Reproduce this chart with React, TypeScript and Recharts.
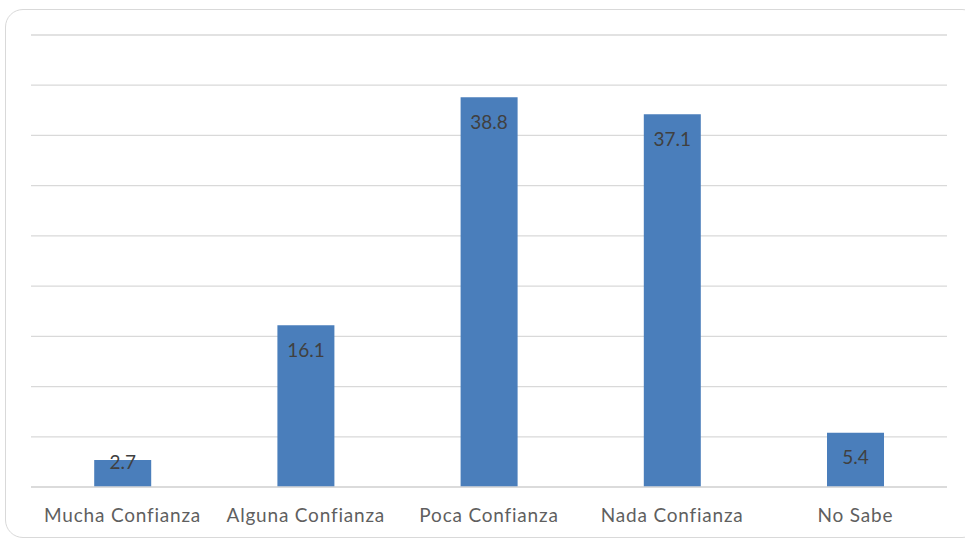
import React from 'react';
import { BarChart, Bar, XAxis, YAxis, CartesianGrid, LabelList } from 'recharts';

const categories = ['Mucha Confianza', 'Alguna Confianza', 'Poca Confianza', 'Nada Confianza', 'No Sabe'];
const values = [2.7, 16.1, 38.8, 37.1, 5.4];
const yTicks = [0, 5, 10, 15, 20, 25, 30, 35, 40, 45];

const data = categories.map((name, i) => ({ name, value: values[i] }));

const FONT = 'Lato, "Open Sans", sans-serif';

// Excel-style inside-end label; short bars get the label pushed up over the top edge
const BarValueLabel = (props: any) => {
  const { x, y, width, height, value } = props;
  const cy = height < 40 ? y + 2 : y + 24;
  return (
    <text
      x={x + width / 2}
      y={cy}
      textAnchor="middle"
      dominantBaseline="central"
      style={{ fill: '#404040', fontSize: 19, fontFamily: FONT }}
    >
      {value}
    </text>
  );
};

export default function App() {
  return (
    <div style={{ position: 'relative', width: 965, height: 539, background: '#fff', fontFamily: FONT, overflow: 'hidden' }}>
      <style>{`body{margin:0}`}</style>
      {/* card frame */}
      <div
        style={{
          position: 'absolute',
          left: 5,
          top: 9,
          width: 975,
          height: 529,
          border: '1.5px solid #d9d9d9',
          borderRadius: 18,
          boxSizing: 'border-box',
        }}
      />
      <div style={{ position: 'absolute', left: 0, top: 0 }}>
        <BarChart
          width={965}
          height={539}
          data={data}
          margin={{ top: 35, right: 18, left: 31, bottom: 22 }}
          barCategoryGap="34.5%"
        >
          <CartesianGrid vertical={false} stroke="#d9d9d9" strokeWidth={1.3} />
          <YAxis hide domain={[0, 45]} ticks={yTicks} />
          <XAxis
            dataKey="name"
            axisLine={{ stroke: '#d9d9d9', strokeWidth: 1.3 }}
            tickLine={false}
            tick={{ fill: '#5f5f5f', fontSize: 19, fontFamily: FONT, letterSpacing: 0.8 }}
            tickMargin={16}
            interval={0}
          />
          <Bar dataKey="value" fill="#4a7ebb" isAnimationActive={false}>
            <LabelList dataKey="value" content={BarValueLabel} />
          </Bar>
        </BarChart>
      </div>
    </div>
  );
}
